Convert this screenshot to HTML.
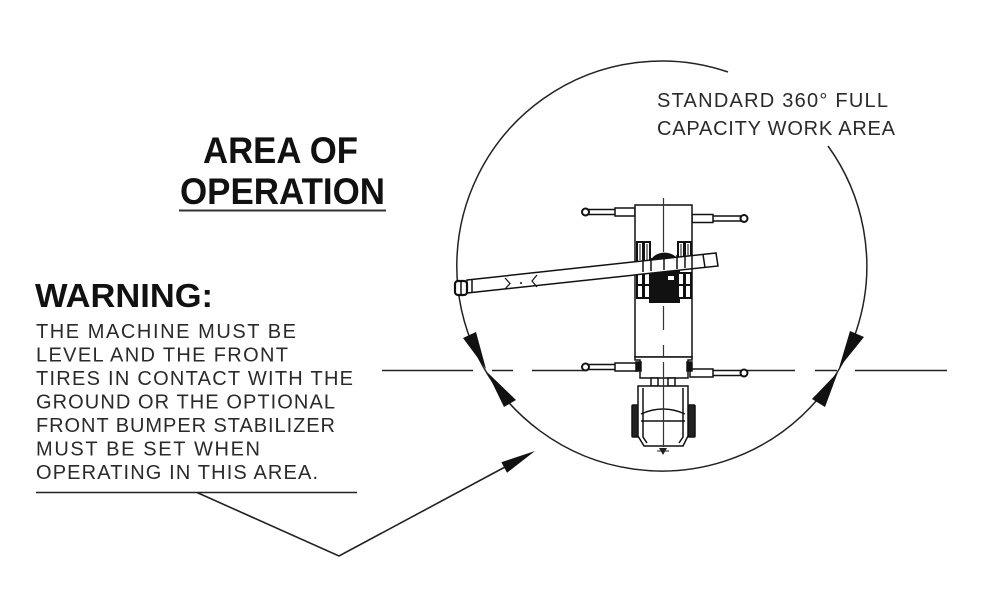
<!DOCTYPE html>
<html><head><meta charset="utf-8"><style>
html,body{margin:0;padding:0;background:#fff;}
svg{display:block;}
</style></head><body>
<svg width="1000" height="609" viewBox="0 0 1000 609" xmlns="http://www.w3.org/2000/svg">
<rect width="1000" height="609" fill="#fff"/>

<!-- Title -->
<g font-family="Liberation Sans, Arial, sans-serif" font-weight="bold" fill="#111">
<text x="203" y="163" font-size="37" textLength="155" lengthAdjust="spacingAndGlyphs">AREA OF</text>
<text x="180" y="204" font-size="37" textLength="205" lengthAdjust="spacingAndGlyphs">OPERATION</text>
<text x="35" y="307" font-size="33" textLength="178" lengthAdjust="spacingAndGlyphs">WARNING:</text>
</g>
<line x1="179" y1="210.5" x2="386" y2="210.5" stroke="#333" stroke-width="2"/>

<!-- Warning body text -->
<g font-family="Liberation Sans, Arial, sans-serif" font-size="20" fill="#2a2a2a">
<text x="36" y="338" textLength="260" lengthAdjust="spacing">THE MACHINE MUST BE</text>
<text x="36" y="361.5" textLength="252" lengthAdjust="spacing">LEVEL AND THE FRONT</text>
<text x="36" y="385" textLength="317" lengthAdjust="spacing">TIRES IN CONTACT WITH THE</text>
<text x="36" y="408.5" textLength="299" lengthAdjust="spacing">GROUND OR THE OPTIONAL</text>
<text x="36" y="432" textLength="299" lengthAdjust="spacing">FRONT BUMPER STABILIZER</text>
<text x="36" y="455.5" textLength="224" lengthAdjust="spacing">MUST BE SET WHEN</text>
<text x="36" y="479" textLength="282" lengthAdjust="spacing">OPERATING IN THIS AREA.</text>
<text x="657" y="107" textLength="231" lengthAdjust="spacing">STANDARD 360° FULL</text>
<text x="657" y="135" textLength="238" lengthAdjust="spacing">CAPACITY WORK AREA</text>
</g>

<!-- underline + leader -->
<line x1="36" y1="492.5" x2="357" y2="492.5" stroke="#222" stroke-width="1.6"/>
<polyline points="197,492.5 339,556 505,467" fill="none" stroke="#222" stroke-width="1.6"/>
<polygon points="535,451 501.4,462.2 507,472.8" fill="#111"/>

<!-- circle -->
<path d="M728,72 A205,205 0 1 0 828,146" fill="none" stroke="#222" stroke-width="1.5"/>

<!-- arrowheads on circle -->
<polygon points="486,369 463,338 476,332" fill="#111"/>
<polygon points="487,372 504,407 516,400" fill="#111"/>
<polygon points="839,368 850,331 864,337" fill="#111"/>
<polygon points="838,372 812,399 825,407" fill="#111"/>

<!-- horizontal center line -->
<g stroke="#222" stroke-width="1.6">
<line x1="382" y1="370.5" x2="473" y2="370.5"/>
<line x1="492" y1="370.5" x2="513" y2="370.5"/>
<line x1="532" y1="370.5" x2="584" y2="370.5"/>
<line x1="745" y1="370.5" x2="795" y2="370.5"/>
<line x1="815" y1="370.5" x2="837" y2="370.5"/>
<line x1="855" y1="370.5" x2="947" y2="370.5"/>
<line x1="653" y1="370.5" x2="675" y2="370.5"/>
</g>

<!-- Machine -->
<g stroke="#111" stroke-width="1.5" fill="#fff">
  <!-- outriggers top -->
  <rect x="587" y="209.5" width="30" height="5"/>
  <rect x="615" y="208" width="20" height="8"/>
  <circle cx="585.5" cy="212" r="3.5" stroke-width="2"/>
  <rect x="712" y="216" width="31" height="5"/>
  <rect x="692" y="214.5" width="21" height="8"/>
  <circle cx="744" cy="218.5" r="3.5" stroke-width="2"/>
  <!-- outriggers bottom -->
  <rect x="587" y="364.5" width="30" height="5"/>
  <rect x="615" y="363" width="22" height="8"/>
  <circle cx="585.5" cy="367" r="3.5" stroke-width="2"/>
  <rect x="712" y="370.5" width="31" height="5"/>
  <rect x="690" y="369" width="23" height="8"/>
  <circle cx="744" cy="373" r="3.5" stroke-width="2"/>

  <!-- main body -->
  <rect x="635" y="205" width="57" height="152"/>
  <!-- rear section -->
  <path d="M635,357 L692,357 L692,360 L688,360 L688,378 L640,378 L640,360 L635,360 Z"/>
  <rect x="636" y="362" width="5" height="9" fill="#111"/>
  <rect x="687" y="362" width="5" height="9" fill="#111"/>
  <rect x="651" y="378" width="7" height="8"/>
  <rect x="668" y="378" width="7" height="8"/>

  <!-- rear unit -->
  <rect x="632" y="405" width="7" height="32" rx="1" fill="#222"/>
  <rect x="688" y="405" width="7" height="32" rx="1" fill="#222"/>
  <path d="M638,386 L688,386 L688,436 L683,446 L644,446 L638,436 Z"/>
  <path d="M643,388 L643,437 L647,443 M683,388 L683,437 L679,443" fill="none"/>
  <path d="M641,414 Q663,404 685,414" fill="none"/>
  <line x1="641" y1="421" x2="685" y2="421"/>
</g>

<!-- turntable (dark) -->
<path d="M649,303 L649,266 A15,13 0 0 1 680,266 L680,303 Z" fill="#111"/>
<rect x="668" y="276" width="6" height="4" fill="#fff"/>

<!-- tracks -->
<g stroke="#111" stroke-width="2" fill="#fff">
  <rect x="637" y="242" width="6" height="20"/>
  <rect x="644" y="242" width="6" height="20"/>
  <rect x="637" y="273" width="6" height="25"/>
  <rect x="644" y="273" width="6" height="25"/>
  <rect x="678" y="242" width="6" height="20"/>
  <rect x="685" y="242" width="6" height="20"/>
  <rect x="678" y="273" width="6" height="25"/>
  <rect x="685" y="273" width="6" height="25"/>
  <line x1="637" y1="285" x2="650" y2="285"/>
  <line x1="678" y1="285" x2="691" y2="285"/>
  <line x1="640" y1="244" x2="640" y2="260" stroke-width="1"/>
  <line x1="647" y1="244" x2="647" y2="260" stroke-width="1"/>
  <line x1="681" y1="244" x2="681" y2="260" stroke-width="1"/>
  <line x1="688" y1="244" x2="688" y2="260" stroke-width="1"/>
</g>

<!-- boom -->
<g stroke="#111" stroke-width="1.5">
  <polygon points="467,280 716,253 718,266 467,293" fill="#fff"/>
  <line x1="703" y1="254.5" x2="705" y2="267.5"/>
  <line x1="472" y1="279.5" x2="472" y2="292.5"/>
  <line x1="643" y1="259" x2="643" y2="272"/>
  <line x1="651" y1="258" x2="651" y2="271"/>
  <line x1="664" y1="257" x2="664" y2="270"/>
  <line x1="677" y1="255" x2="677" y2="269"/>
  <line x1="685" y1="255" x2="685" y2="268"/>
  <line x1="692" y1="254" x2="692" y2="268"/>
  <rect x="455" y="281" width="12" height="14" rx="3" fill="#fff" stroke-width="2.2"/>
  <line x1="461" y1="281" x2="461" y2="295"/>
  <path d="M505,278 L510,283.5 L505,289 M537,275 L532,281 L537,287" fill="none" stroke-width="1.2"/>
</g>
<circle cx="521" cy="283" r="1" fill="#111"/>

<!-- vertical centerline -->
<g stroke="#333" stroke-width="1.2">
  <line x1="663.5" y1="198" x2="663.5" y2="252"/>
  <line x1="663.5" y1="306" x2="663.5" y2="330"/>
  <line x1="663.5" y1="345" x2="663.5" y2="356"/>
  <line x1="663.5" y1="362" x2="663.5" y2="447"/>
</g>
<polygon points="659,448 667,448 663,455" fill="#222"/>
<line x1="657" y1="451" x2="669" y2="451" stroke="#222" stroke-width="1"/>
</svg>
</body></html>
